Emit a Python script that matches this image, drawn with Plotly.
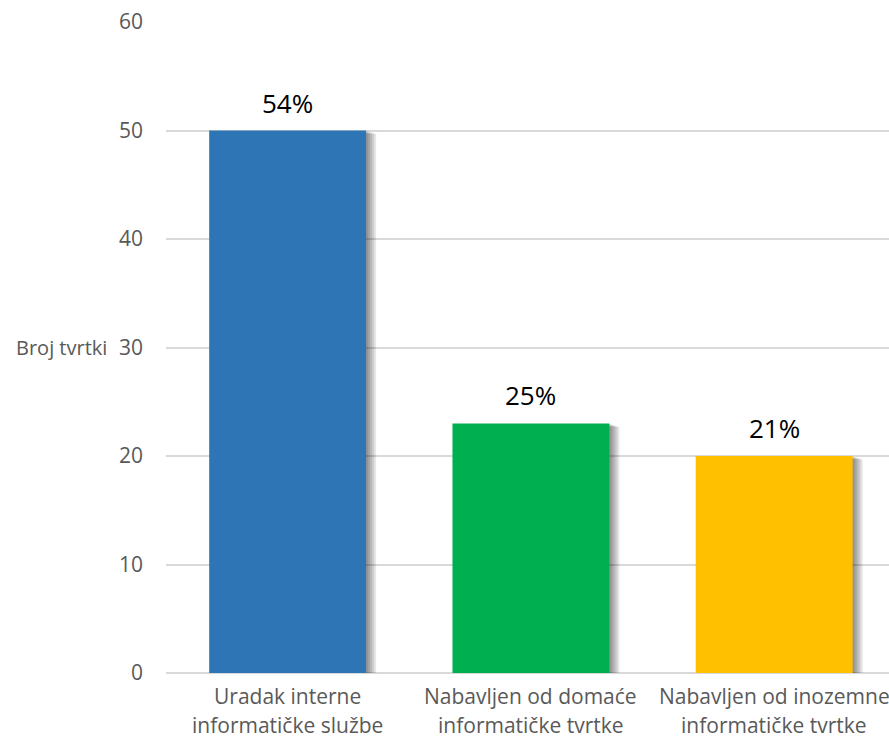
import plotly.graph_objects as go

categories = ["Uradak interne\ninformatičke službe",
              "Nabavljen od domaće\ninformatičke tvrtke",
              "Nabavljen od inozemne\ninformatičke tvrtke"]
counts = [50, 23, 20]
share_labels = ["54%", "25%", "21%"]
bar_colors = ["#2E75B6", "#00B050", "#FFC000"]
y_ticks = [0, 10, 20, 30, 40, 50, 60]

BAR_W = 0.645
PX = 1 / 243.3  # one pixel in category units
GREY = "#595959"

fig = go.Figure()

# soft drop shadow: stacked translucent grey bars, shifted right and down
for shift in [10, 8, 6, 4, 2]:
    fig.add_trace(go.Bar(
        x=[0, 1, 2], y=[c - 0.03 * shift for c in counts],
        width=BAR_W, offset=-BAR_W / 2 + shift * PX,
        marker=dict(color="rgba(0,0,0,0.10)", line=dict(width=0)),
        hoverinfo="skip", showlegend=False,
    ))

fig.add_trace(go.Bar(
    x=[0, 1, 2], y=counts, width=BAR_W,
    marker=dict(color=bar_colors, line=dict(width=0)),
    showlegend=False,
))

# percentage labels above the bars
for i, (c, lab) in enumerate(zip(counts, share_labels)):
    fig.add_annotation(x=i, y=c, text=lab, showarrow=False,
                       yanchor="bottom", yshift=8,
                       font=dict(size=26, color="#000000"))

# two-line category labels under the axis
for i, cat in enumerate(categories):
    for k, line in enumerate(cat.split("\n")):
        fig.add_annotation(x=i, y=0, yref="y", text=line, showarrow=False,
                           yanchor="middle", yshift=-23 - 29 * k,
                           font=dict(size=21, color=GREY))

fig.add_annotation(text="Broj tvrtki", xref="paper", yref="y",
                   x=0, xshift=-57, y=30, xanchor="right", showarrow=False,
                   font=dict(size=20, color=GREY))

fig.update_layout(
    width=889, height=743,
    margin=dict(l=166, r=0, t=22, b=70),
    barmode="overlay",
    plot_bgcolor="white", paper_bgcolor="white",
    font=dict(family="Open Sans", size=20, color=GREY),
    xaxis=dict(range=[-0.5, 2.472], showgrid=False, showline=False,
               showticklabels=False, ticks=""),
    yaxis=dict(range=[0, 60], tickvals=y_ticks, showgrid=True,
               gridcolor="#D9D9D9", gridwidth=1.5, zeroline=True,
               zerolinecolor="#D9D9D9", zerolinewidth=1.5,
               ticks="", ticklabelstandoff=22,
               tickfont=dict(size=21, color=GREY)),
)

fig.write_html("out.html")
